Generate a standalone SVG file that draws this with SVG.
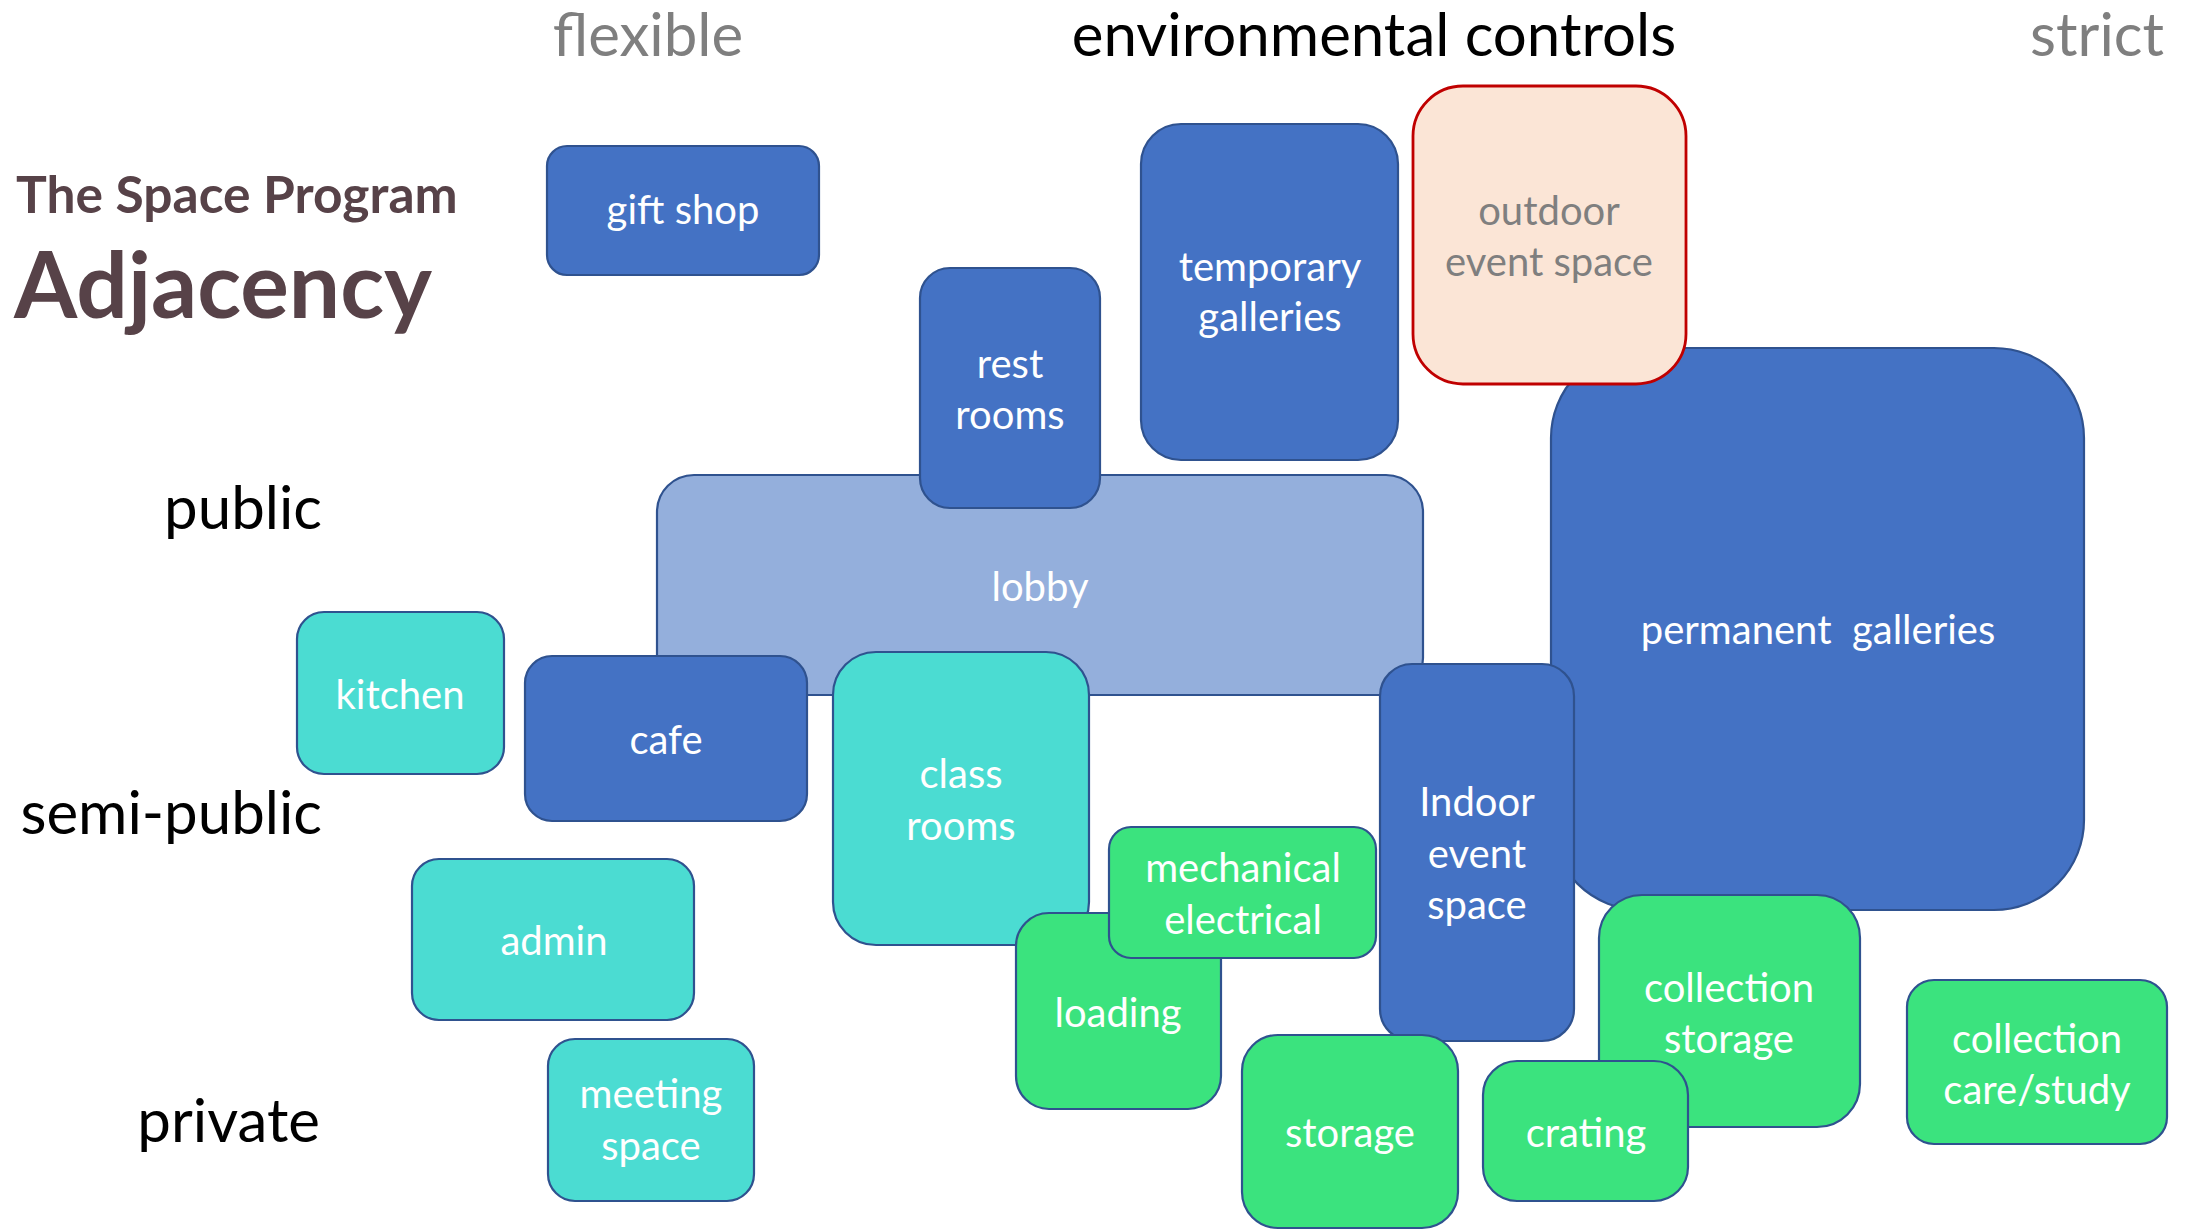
<svg xmlns="http://www.w3.org/2000/svg" width="2195" height="1231" viewBox="0 0 2195 1231">
<style>
text{font-family:Lato,"Open Sans","Liberation Sans",sans-serif;}
.n rect{stroke:#2F528F;stroke-width:2.2;}
.blue rect{fill:#4472C4;}
.lobby rect{fill:#94AFDC;}
.teal rect{fill:#4BDCD2;}
.green rect{fill:#3BE37E;}
.n text{fill:#ffffff;font-size:40px;text-anchor:middle;}
.axis{font-size:60px;}
.gray{fill:#7F7F7F;}
.side{font-size:60px;fill:#000;text-anchor:end;}
.title{fill:#574248;font-weight:bold;}
</style>
<rect width="2195" height="1231" fill="#ffffff"/>
<g id="labels">
<text class="axis gray" x="648" y="56" text-anchor="middle">flexible</text>
<text class="axis" x="1374" y="56" text-anchor="middle" fill="#000">environmental controls</text>
<text class="axis gray" x="2164" y="56" text-anchor="end">strict</text>
<text class="title" x="16" y="213" font-size="51.5">The Space Program</text>
<text class="title" x="14" y="318" font-size="91">Adjacency</text>
<text class="side" x="322" y="529">public</text>
<text class="side" x="322" y="834">semi-public</text>
<text class="side" x="320" y="1142">private</text>
</g>
<g id="connectors"></g>
<g id="gift-shop" class="n blue"><rect x="547" y="146" width="272" height="129" rx="20"/><text x="683" y="224">gift shop</text></g>
<g id="temporary-galleries" class="n blue"><rect x="1141" y="124" width="257" height="336" rx="40"/><text x="1270" y="281">temporary</text><text x="1270" y="331">galleries</text></g>
<g id="permanent-galleries" class="n blue"><rect x="1551" y="348" width="533" height="562" rx="90"/><text x="1818" y="644" xml:space="preserve">permanent  galleries</text></g>
<g id="outdoor-event-space" class="n"><rect x="1413" y="86" width="273" height="298" rx="50" style="fill:#FBE5D6;stroke:#C00000;stroke-width:2.8"/><text x="1549" y="225" style="fill:#7F7F7F">outdoor</text><text x="1549" y="276" style="fill:#7F7F7F">event space</text></g>
<g id="lobby" class="n lobby"><rect x="657" y="475" width="766" height="220" rx="37"/><text x="1040" y="601">lobby</text></g>
<g id="rest-rooms" class="n blue"><rect x="920" y="268" width="180" height="240" rx="30"/><text x="1010" y="378">rest</text><text x="1010" y="429">rooms</text></g>
<g id="kitchen" class="n teal"><rect x="297" y="612" width="207" height="162" rx="27"/><text x="400" y="709">kitchen</text></g>
<g id="cafe" class="n blue"><rect x="525" y="656" width="282" height="165" rx="27"/><text x="666" y="754">cafe</text></g>
<g id="class-rooms" class="n teal"><rect x="833" y="652" width="256" height="293" rx="43"/><text x="961" y="788">class</text><text x="961" y="840">rooms</text></g>
<g id="admin" class="n teal"><rect x="412" y="859" width="282" height="161" rx="27"/><text x="554" y="955">admin</text></g>
<g id="meeting-space" class="n teal"><rect x="548" y="1039" width="206" height="162" rx="27"/><text x="651" y="1108">meeting</text><text x="651" y="1160">space</text></g>
<g id="loading" class="n green"><rect x="1016" y="913" width="205" height="196" rx="33"/><text x="1118" y="1027">loading</text></g>
<g id="mechanical-electrical" class="n green"><rect x="1109" y="827" width="267" height="131" rx="22"/><text x="1243" y="882">mechanical</text><text x="1243" y="934">electrical</text></g>
<g id="indoor-event-space" class="n blue"><rect x="1380" y="664" width="194" height="377" rx="32"/><text x="1477" y="816">Indoor</text><text x="1477" y="868">event</text><text x="1477" y="919">space</text></g>
<g id="storage" class="n green"><rect x="1242" y="1035" width="216" height="193" rx="36"/><text x="1350" y="1147">storage</text></g>
<g id="collection-storage" class="n green"><rect x="1599" y="895" width="261" height="232" rx="43"/><text x="1729" y="1002">collection</text><text x="1729" y="1053">storage</text></g>
<g id="crating" class="n green"><rect x="1483" y="1061" width="205" height="140" rx="34"/><text x="1586" y="1147">crating</text></g>
<g id="collection-care-study" class="n green"><rect x="1907" y="980" width="260" height="164" rx="27"/><text x="2037" y="1053">collection</text><text x="2037" y="1104">care/study</text></g>
</svg>
